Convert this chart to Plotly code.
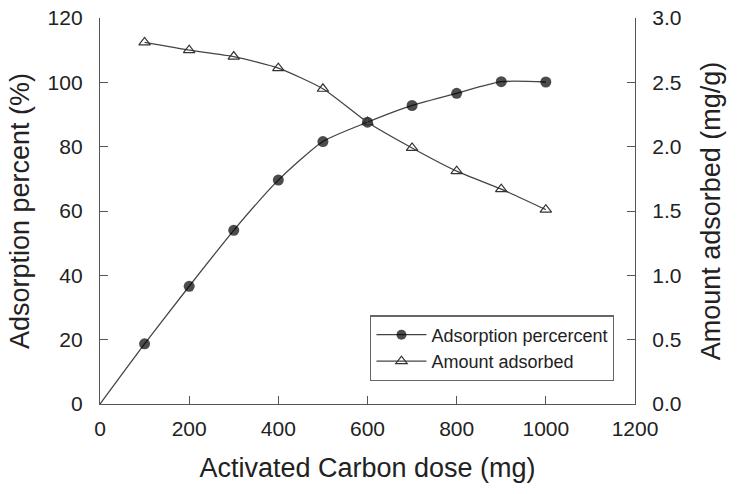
import plotly.graph_objects as go

dose = [0, 100, 200, 300, 400, 500, 600, 700, 800, 900, 1000]
adsorption_percent = [0, 18.7, 36.6, 54.0, 69.6, 81.6, 87.6, 92.8, 96.6, 100.2, 100.1]
dose_amount = [100, 200, 300, 400, 500, 600, 700, 800, 900, 1000]
amount_adsorbed = [2.81, 2.75, 2.70, 2.61, 2.45, 2.19, 1.99, 1.81, 1.67, 1.51]

x_ticks = [0, 200, 400, 600, 800, 1000, 1200]
y_left_ticks = [0, 20, 40, 60, 80, 100, 120]
y_right_ticks = [0.0, 0.5, 1.0, 1.5, 2.0, 2.5, 3.0]

line_col = "#444444"
axis_col = "#555555"
text_col = "#222222"
font_fam = "Liberation Sans, Arial, sans-serif"

fig = go.Figure()
fig.add_trace(go.Scatter(
    x=dose, y=adsorption_percent, name="Adsorption percercent",
    mode="lines+markers",
    line=dict(color=line_col, width=1.3, shape="spline", smoothing=0.6),
    marker=dict(symbol="circle", color="black", size=[0] + [11] * 10,
                line=dict(width=0)),
))
fig.add_trace(go.Scatter(
    x=dose_amount, y=amount_adsorbed, name="Amount adsorbed",
    mode="lines+markers", yaxis="y2",
    line=dict(color=line_col, width=1.3, shape="spline", smoothing=0.6),
    marker=dict(symbol="triangle-up-open", color="#333333", size=10,
                line=dict(width=1.2)),
))

axis_common = dict(
    showgrid=False, zeroline=False, showline=True, linecolor=axis_col,
    linewidth=1.3, ticks="inside", ticklen=8, tickcolor=axis_col, tickwidth=1.3,
    tickfont=dict(family=font_fam, size=21, color=text_col), automargin=False,
)
title_font = dict(family=font_fam, size=27, color=text_col)

fig.update_layout(
    width=739, height=494,
    margin=dict(l=100, r=104, t=18, b=90),
    paper_bgcolor="white", plot_bgcolor="white",
    showlegend=True,
    legend=dict(
        x=0.505, y=0.23, xanchor="left", yanchor="top",
        bordercolor="#666666", borderwidth=1.3, bgcolor="white",
        font=dict(family=font_fam, size=18, color=text_col),
        tracegroupgap=0, itemwidth=50,
    ),
    xaxis=dict(
        range=[0, 1200], tickvals=x_ticks, ticklabelstandoff=6,
        title=dict(text="Activated Carbon dose (mg)", font=title_font, standoff=18),
        **axis_common,
    ),
    yaxis=dict(
        range=[0, 120], tickvals=y_left_ticks, ticklabelstandoff=12,
        title=dict(text="Adsorption percent (%)", font=title_font, standoff=10),
        **axis_common,
    ),
    yaxis2=dict(
        range=[0, 3.0], tickvals=y_right_ticks, tickformat=".1f",
        overlaying="y", side="right", ticklabelstandoff=12,
        title=dict(text="Amount adsorbed (mg/g)", font=title_font, standoff=20),
        **axis_common,
    ),
)

fig.write_html("out.html")
